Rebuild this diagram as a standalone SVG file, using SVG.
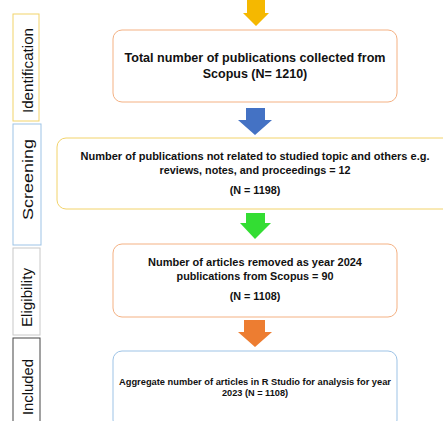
<svg xmlns="http://www.w3.org/2000/svg" width="443" height="421" viewBox="0 0 443 421">
<style>
.lab{font-family:"Liberation Sans",Arial,sans-serif;font-size:15px;fill:#111;text-anchor:middle}
.t{font-family:"Liberation Sans",Arial,sans-serif;font-weight:bold;fill:#111;text-anchor:middle}
.box{fill:#fff;stroke-width:1}
</style>
<rect width="443" height="421" fill="#fff"/>
<g id="phase-identification">
<rect x="13" y="14" width="26" height="107" fill="#fff" stroke="#f2d36b" stroke-width="1"/>
<text class="lab" transform="translate(33,70.5) rotate(-90)" textLength="85" lengthAdjust="spacingAndGlyphs">Identification</text>
</g>
<g id="phase-screening">
<rect x="13" y="124" width="28" height="121" fill="#fff" stroke="#9dc3e6" stroke-width="1"/>
<text class="lab" transform="translate(33,179.5) rotate(-90)" textLength="81" lengthAdjust="spacingAndGlyphs">Screening</text>
</g>
<g id="phase-eligibility">
<rect x="13" y="248" width="27" height="87" fill="#fff" stroke="#c8c8c8" stroke-width="1"/>
<text class="lab" transform="translate(32,297.5) rotate(-90)" textLength="59" lengthAdjust="spacingAndGlyphs">Eligibility</text>
</g>
<g id="phase-included">
<rect x="13" y="338" width="27" height="90" fill="#fff" stroke="#444" stroke-width="1"/>
<text class="lab" transform="translate(33,387) rotate(-90)" textLength="56" lengthAdjust="spacingAndGlyphs">Included</text>
</g>
<g id="connectors">
<polygon points="247,0 265,0 265,13 269,13 256,26 243,13 247,13" fill="#f5b800"/>
<polygon points="246,108 265,108 265,120 272,120 255,135 238,120 246,120" fill="#4472c4"/>
<polygon points="246,213 265,213 265,223 271,223 255,239 240,223 246,223" fill="#33dd33"/>
<polygon points="244,320 265,320 265,332 272,332 255,347 238,332 244,332" fill="#ed7d31"/>
</g>
<g id="box1">
<rect class="box" x="113" y="30" width="284" height="72" rx="9" stroke="#f4b183"/>
<text class="t" font-size="12.5" x="255" y="62" textLength="261" lengthAdjust="spacingAndGlyphs">Total number of publications collected from</text>
<text class="t" font-size="12.5" x="255" y="78">Scopus (N= 1210)</text>
</g>
<g id="box2">
<rect class="box" x="57" y="138" width="400" height="71" rx="9" stroke="#f2d36b"/>
<text class="t" font-size="10.8" x="255" y="160" textLength="349" lengthAdjust="spacingAndGlyphs">Number of publications not related to studied topic and others e.g.</text>
<text class="t" font-size="10.8" x="255" y="174">reviews, notes, and proceedings = 12</text>
<text class="t" font-size="10.8" x="255" y="194">(N = 1198)</text>
</g>
<g id="box3">
<rect class="box" x="113" y="244" width="284" height="73" rx="9" stroke="#f4b183"/>
<text class="t" font-size="10.8" x="255" y="266" textLength="214" lengthAdjust="spacingAndGlyphs">Number of articles removed as year 2024</text>
<text class="t" font-size="10.8" x="255" y="280">publications from Scopus = 90</text>
<text class="t" font-size="10.8" x="255" y="300">(N = 1108)</text>
</g>
<g id="box4">
<rect class="box" x="113" y="351" width="284" height="78" rx="9" stroke="#9dc3e6"/>
<text class="t" font-size="9.2" x="255" y="385" textLength="272" lengthAdjust="spacingAndGlyphs">Aggregate number of articles in R Studio for analysis for year</text>
<text class="t" font-size="9.2" x="255" y="396">2023 (N = 1108)</text>
</g>
</svg>
